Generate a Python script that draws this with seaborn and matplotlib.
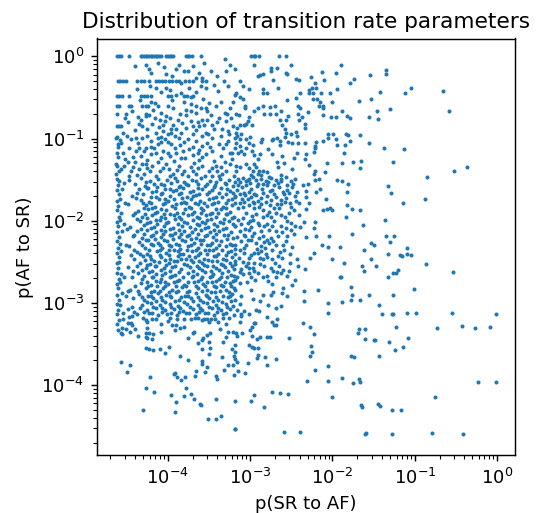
import numpy as np
import pandas as pd
import matplotlib
matplotlib.use("Agg")
import matplotlib.pyplot as plt
import seaborn as sns

# All values are log10 of the transition probabilities (p(SR to AF), p(AF to SR)),
# read off the reference picture region by region.

# horizontal rows at p(AF to SR) = 1, 1/2, 1/3, 1/4, 1/5, 1/7
rows_top = [
    (-4.62, 0.0), (-4.60, 0.0), (-4.57, 0.0), (-4.47, 0.0), (-4.33, 0.0), (-4.31, 0.0), (-4.29, 0.0),
    (-4.27, 0.0), (-4.25, 0.0), (-4.23, 0.0), (-4.21, 0.0), (-4.19, 0.0), (-4.17, 0.0), (-4.15, 0.0),
    (-4.13, 0.0), (-4.11, 0.0), (-4.09, 0.0), (-4.02, 0.0), (-4.00, 0.0), (-3.98, 0.0), (-3.96, 0.0),
    (-3.94, 0.0), (-3.78, 0.0), (-3.76, 0.0), (-3.74, 0.0), (-3.71, 0.0), (-3.60, 0.0), (-2.99, 0.0),
    (-2.96, 0.0), (-2.94, 0.0), (-2.89, 0.0), (-2.65, 0.0), (-2.56, 0.0),
    (-4.61, -0.30), (-4.58, -0.30), (-4.55, -0.30), (-4.51, -0.30), (-4.37, -0.30), (-4.33, -0.30),
    (-4.29, -0.30), (-4.23, -0.30), (-4.15, -0.30), (-4.11, -0.30), (-4.07, -0.30), (-4.03, -0.30),
    (-3.99, -0.30), (-3.95, -0.30), (-3.90, -0.30), (-3.86, -0.30), (-3.79, -0.30), (-3.74, -0.30),
    (-3.69, -0.30), (-3.58, -0.30), (-3.54, -0.30), (-3.32, -0.30), (-3.13, -0.30),
    (-4.62, -0.48), (-4.59, -0.48), (-4.56, -0.48), (-4.47, -0.48), (-4.33, -0.48), (-4.29, -0.48),
    (-4.25, -0.48), (-4.21, -0.48), (-4.00, -0.48), (-3.96, -0.48), (-3.81, -0.48), (-3.77, -0.48),
    (-3.70, -0.48),
    (-4.62, -0.60), (-4.60, -0.60), (-4.47, -0.60), (-4.45, -0.60), (-4.31, -0.60), (-4.27, -0.60),
    (-4.24, -0.60), (-4.00, -0.60),
    (-4.62, -0.70), (-4.51, -0.70), (-4.27, -0.70),
    (-4.62, -0.85), (-4.59, -0.85), (-4.57, -0.85),
]

upper_left = [
    (-4.27, -0.10), (-4.23, -0.16), (-4.12, -0.08), (-4.02, -0.22), (-3.90, -0.16), (-3.86, -0.10),
    (-3.81, -0.18), (-3.76, -0.18), (-3.66, -0.26), (-3.56, -0.08), (-3.58, -0.26), (-3.48, -0.18),
    (-3.30, -0.18), (-3.19, -0.16), (-3.44, -0.35), (-3.54, -0.39), (-3.66, -0.43), (-3.72, -0.49),
    (-3.80, -0.55), (-3.90, -0.47), (-4.14, -0.39), (-4.08, -0.43), (-4.02, -0.39), (-4.27, -0.73),
    (-4.23, -0.71), (-4.10, -0.77), (-3.98, -0.75), (-3.94, -0.83), (-3.88, -0.77), (-3.78, -0.71),
    (-3.66, -0.69), (-3.58, -0.77), (-3.48, -0.71), (-3.38, -0.75), (-3.31, -0.69), (-3.25, -0.63),
    (-3.21, -0.55), (-3.19, -0.47), (-3.50, -0.57), (-3.66, -0.61), (-3.78, -0.65), (-3.94, -0.63),
    (-4.12, -0.61), (-4.16, -0.57), (-4.31, -0.85), (-4.25, -0.89), (-4.14, -0.93), (-4.06, -0.91),
    (-4.00, -0.95), (-3.90, -0.89), (-3.78, -0.87), (-3.70, -0.95), (-3.62, -0.85), (-3.54, -0.93),
    (-3.44, -0.89), (-3.36, -0.97), (-3.27, -0.91), (-3.21, -0.85), (-3.23, -0.75), (-4.39, -0.99),
    (-4.31, -0.99), (-4.21, -1.03), (-4.12, -1.07), (-4.04, -1.01), (-3.96, -1.07), (-3.86, -0.99),
    (-3.76, -1.01), (-3.66, -1.03), (-3.58, -1.09), (-3.46, -0.99), (-3.38, -1.07), (-3.27, -1.03),
    (-3.19, -0.99), (-4.63, -0.99), (-4.61, -1.07), (-4.62, -1.17), (-4.47, -1.11), (-4.39, -1.15),
    (-4.33, -1.21), (-4.27, -1.11), (-4.21, -1.19), (-4.14, -1.17), (-4.06, -1.15), (-3.98, -1.21),
    (-3.90, -1.17), (-3.82, -1.15), (-3.74, -1.13), (-3.64, -1.17), (-3.54, -1.19), (-3.46, -1.15),
    (-3.36, -1.21), (-3.25, -1.17), (-3.19, -1.11), (-4.63, -1.31), (-4.63, -1.43), (-4.57, -1.37),
    (-4.49, -1.29), (-4.43, -1.35), (-4.35, -1.37), (-4.29, -1.43), (-4.27, -1.31), (-4.19, -1.33),
    (-4.10, -1.39), (-4.02, -1.31), (-3.94, -1.43), (-3.86, -1.33), (-3.80, -1.39), (-3.72, -1.35),
    (-3.66, -1.43), (-3.58, -1.33), (-3.50, -1.39), (-3.42, -1.33), (-3.34, -1.43), (-3.25, -1.31),
    (-3.17, -1.39), (-3.74, -0.39), (-3.31, -0.03), (-3.54, -0.63), (-3.84, -0.33), (-4.43, -1.23),
    (-4.58, -1.02), (-4.52, -1.25), (-4.36, -1.05), (-4.25, -1.26), (-4.17, -1.12), (-4.08, -1.24),
    (-4.00, -1.04), (-3.93, -1.27), (-3.85, -1.08), (-3.79, -1.24), (-3.70, -1.10), (-3.62, -1.26),
    (-3.52, -1.05), (-3.44, -1.27), (-3.33, -1.12), (-3.22, -1.25), (-4.60, -1.40), (-4.47, -1.45),
    (-4.32, -1.31), (-4.15, -1.45), (-4.06, -1.36), (-3.97, -1.46), (-3.89, -1.38), (-3.76, -1.46),
    (-3.68, -1.30), (-3.55, -1.45), (-3.47, -1.36), (-3.38, -1.46), (-3.29, -1.40), (-3.20, -1.46),
    (-4.40, -0.90), (-4.19, -0.82), (-4.03, -0.79), (-3.84, -0.93), (-3.64, -0.80), (-3.47, -0.83),
    (-3.34, -0.89), (-3.60, -0.63), (-3.42, -0.60), (-3.85, -0.70), (-4.08, -0.69), (-4.36, -0.74),
    (-4.55, -0.93), (-4.61, -1.22), (-4.62, -0.98), (-4.62, -1.33), (-4.61, -1.10),
    (-4.40, -0.12), (-4.20, -0.20), (-4.05, -0.13), (-3.95, -0.24), (-3.70, -0.12), (-3.62, -0.20),
    (-3.40, -0.24), (-3.24, -0.10), (-4.37, -0.40), (-4.22, -0.36), (-3.98, -0.41), (-3.84, -0.44),
    (-3.60, -0.36), (-3.39, -0.42), (-3.27, -0.36), (-4.34, -0.53), (-4.20, -0.55), (-3.95, -0.53),
    (-3.72, -0.58), (-3.57, -0.52), (-3.35, -0.55), (-4.44, -0.66), (-4.18, -0.65), (-4.02, -0.72),
    (-3.72, -0.66), (-3.52, -0.67), (-3.28, -0.70), (-4.48, -0.80), (-4.35, -0.82), (-4.11, -0.86),
    (-3.96, -0.88), (-3.72, -0.79), (-3.56, -0.84), (-3.40, -0.80), (-3.26, -0.95), (-4.50, -0.97),
    (-4.26, -0.97), (-4.08, -0.98), (-3.91, -0.97), (-3.59, -0.97),
    (-4.52, -0.75), (-4.33, -0.78), (-4.16, -0.75), (-4.06, -0.84), (-3.83, -0.81), (-3.69, -0.85),
    (-3.52, -0.77), (-3.29, -0.79), (-4.57, -1.05), (-4.45, -1.00), (-4.35, -1.12), (-4.20, -1.10),
    (-4.08, -1.04), (-3.92, -1.11), (-3.80, -1.04), (-3.62, -1.14), (-3.49, -1.10), (-3.30, -1.07),
    (-3.22, -1.18), (-4.55, -1.18), (-4.40, -1.28), (-4.22, -1.40), (-4.12, -1.28), (-3.99, -1.37),
    (-3.84, -1.24), (-3.70, -1.40), (-3.58, -1.22), (-3.40, -1.40), (-3.31, -1.29), (-4.53, -1.33),
    (-4.38, -1.44), (-4.26, -1.36), (-3.83, -1.43), (-3.63, -1.36), (-3.46, -1.45), (-3.35, -1.35),
    (-4.00, -1.18), (-3.70, -1.20), (-4.45, -1.40), (-3.96, -0.93), (-3.66, -0.90), (-3.51, -0.95),
    (-4.12, -0.99), (-4.29, -1.15),
]

upper_mid = [
    (-2.96, -0.10), (-2.51, -0.10), (-1.90, -0.10), (-2.75, -0.14), (-2.75, -0.18), (-2.68, -0.14),
    (-2.57, -0.20), (-2.55, -0.22), (-2.88, -0.23), (-2.85, -0.21), (-2.90, -0.24), (-2.13, -0.19),
    (-1.96, -0.20), (-2.26, -0.25), (-1.54, -0.23), (-3.09, -0.36), (-3.02, -0.40), (-3.17, -0.45),
    (-2.72, -0.29), (-2.44, -0.28), (-2.41, -0.29), (-2.21, -0.33), (-2.25, -0.39), (-2.10, -0.29),
    (-1.74, -0.28), (-1.79, -0.32), (-2.84, -0.40), (-2.84, -0.44), (-2.79, -0.45), (-2.66, -0.38),
    (-2.29, -0.41), (-2.29, -0.44), (-2.20, -0.39), (-2.24, -0.44), (-2.14, -0.44), (-2.03, -0.45),
    (-1.94, -0.40), (-3.12, -0.50), (-3.09, -0.52), (-2.55, -0.53), (-2.44, -0.51), (-2.39, -0.45),
    (-2.24, -0.52), (-2.19, -0.52), (-2.15, -0.55), (-1.68, -0.54), (-1.53, -0.52), (-3.06, -0.61),
    (-3.06, -0.63), (-2.91, -0.63), (-2.84, -0.61), (-2.76, -0.62), (-2.70, -0.61), (-2.42, -0.61),
    (-2.40, -0.63), (-2.17, -0.61), (-2.12, -0.60), (-2.11, -0.63), (-2.00, -0.55), (-3.17, -0.70),
    (-3.14, -0.71), (-2.95, -0.67), (-2.83, -0.70), (-2.76, -0.70), (-2.69, -0.70), (-2.62, -0.67),
    (-2.54, -0.73), (-2.42, -0.70), (-2.37, -0.74), (-2.30, -0.68), (-2.11, -0.71), (-2.02, -0.74),
    (-1.96, -0.74), (-1.89, -0.67), (-1.82, -0.73), (-1.79, -0.75), (-1.56, -0.74), (-3.01, -0.74),
    (-3.03, -0.79), (-3.05, -0.82), (-3.08, -0.84), (-3.13, -0.84), (-3.16, -0.87), (-2.98, -0.84),
    (-3.17, -0.93), (-3.16, -0.97), (-3.11, -0.95), (-3.13, -1.00), (-3.05, -1.01), (-3.00, -0.98),
    (-3.01, -1.06), (-2.64, -0.78), (-2.56, -0.78), (-2.61, -0.83), (-2.41, -0.78), (-2.33, -0.82),
    (-2.33, -0.87), (-2.58, -0.88), (-2.56, -0.93), (-2.58, -0.98), (-2.44, -0.92), (-2.43, -0.97),
    (-2.50, -0.94), (-2.72, -1.00), (-2.67, -0.99), (-2.64, -1.03), (-2.64, -1.08), (-2.73, -1.02),
    (-2.86, -1.00), (-2.87, -1.04), (-2.78, -1.13), (-2.88, -1.19), (-2.90, -1.25), (-2.95, -1.20),
    (-2.98, -1.15), (-3.05, -1.11), (-3.11, -1.15), (-3.15, -1.17), (-3.07, -1.19), (-3.17, -1.06),
    (-3.13, -1.09), (-2.97, -1.08), (-2.54, -1.04), (-2.49, -1.05), (-2.42, -1.05), (-2.34, -1.06),
    (-2.20, -1.04), (-2.21, -1.09), (-2.21, -1.12), (-2.22, -1.16), (-2.32, -1.19), (-2.43, -1.18),
    (-2.34, -1.25), (-2.47, -1.24), (-2.11, -1.03), (-2.05, -0.95), (-1.99, -0.95), (-2.05, -0.99),
    (-1.96, -1.01), (-1.83, -0.94), (-1.81, -0.96), (-1.85, -1.08), (-1.94, -1.08), (-1.86, -1.17),
    (-1.79, -1.03), (-1.66, -0.96), (-1.56, -1.06), (-3.17, -1.33), (-3.13, -1.35), (-3.05, -1.31),
    (-3.01, -1.36), (-2.95, -1.31), (-2.93, -1.35), (-2.97, -1.39), (-2.91, -1.43), (-2.89, -1.40),
    (-2.85, -1.39), (-2.80, -1.41), (-2.87, -1.44), (-2.99, -1.44), (-2.77, -1.47), (-2.68, -1.29),
    (-2.66, -1.35), (-2.63, -1.44), (-2.59, -1.30), (-2.49, -1.37), (-2.61, -1.21), (-2.73, -1.19),
    (-2.21, -1.39), (-2.22, -1.43), (-2.29, -1.32), (-2.07, -1.30), (-2.09, -1.41), (-1.75, -1.28),
    (-1.65, -1.27), (-1.66, -1.36), (-1.88, -1.30),
]

upper_right = [
    (-1.35, -0.17), (-1.35, -0.22), (-1.42, -0.43), (-1.12, -0.44), (-1.04, -0.39), (-0.66, -0.42),
    (-1.46, -0.67), (-1.30, -0.64), (-0.58, -0.67), (-1.45, -0.76), (-1.38, -1.12), (-1.13, -1.13),
    (-1.26, -1.29), (-0.52, -1.39), (-0.36, -1.35), (-0.85, -1.47),
]

mid_left = [
    (-4.62, -1.49), (-4.59, -1.52), (-4.47, -1.50), (-4.33, -1.48), (-4.22, -1.52), (-4.12, -1.49), (-4.01, -1.51), (-3.92, -1.48), (-3.80, -1.53), (-3.71, -1.50), (-3.60, -1.48), (-3.49, -1.52), (-3.37, -1.49), (-3.26, -1.51),
    (-4.61, -1.57), (-4.40, -1.55), (-4.28, -1.58), (-4.17, -1.55), (-4.05, -1.57), (-3.96, -1.54), (-3.85, -1.58), (-3.75, -1.56), (-3.64, -1.55), (-3.55, -1.58), (-3.43, -1.56), (-3.31, -1.54), (-3.21, -1.58),
    (-4.62, -1.63), (-4.56, -1.61), (-4.35, -1.62), (-4.25, -1.60), (-4.14, -1.64), (-4.03, -1.61), (-3.90, -1.63), (-3.82, -1.60), (-3.69, -1.64), (-3.58, -1.61), (-3.47, -1.63), (-3.35, -1.60), (-3.24, -1.64),
    (-4.60, -1.68), (-4.44, -1.70), (-4.30, -1.67), (-4.20, -1.71), (-4.09, -1.68), (-3.98, -1.70), (-3.87, -1.67), (-3.77, -1.71), (-3.66, -1.69), (-3.53, -1.67), (-3.41, -1.71), (-3.29, -1.68), (-3.19, -1.70),
    (-4.62, -1.76), (-4.58, -1.74), (-4.33, -1.75), (-4.23, -1.77), (-4.11, -1.73), (-4.00, -1.76), (-3.93, -1.74), (-3.81, -1.77), (-3.72, -1.73), (-3.61, -1.76), (-3.50, -1.74), (-3.39, -1.77), (-3.27, -1.75),
    (-4.61, -1.82), (-4.48, -1.80), (-4.27, -1.81), (-4.16, -1.83), (-4.06, -1.80), (-3.95, -1.82), (-3.84, -1.79), (-3.74, -1.83), (-3.63, -1.80), (-3.52, -1.82), (-3.44, -1.79), (-3.33, -1.83), (-3.22, -1.81),
    (-4.62, -1.87), (-4.57, -1.90), (-4.36, -1.88), (-4.24, -1.86), (-4.13, -1.89), (-4.02, -1.87), (-3.89, -1.90), (-3.79, -1.86), (-3.68, -1.89), (-3.57, -1.87), (-3.46, -1.90), (-3.36, -1.86), (-3.25, -1.89),
    (-4.60, -1.95), (-4.42, -1.93), (-4.31, -1.96), (-4.19, -1.93), (-4.08, -1.95), (-3.97, -1.92), (-3.86, -1.95), (-3.76, -1.93), (-3.65, -1.96), (-3.54, -1.93), (-3.42, -1.95), (-3.30, -1.92), (-3.20, -1.96),
    (-4.62, -2.01), (-4.58, -1.99), (-4.34, -2.00), (-4.22, -2.02), (-4.10, -1.99), (-4.00, -2.01), (-3.91, -1.98), (-3.80, -2.02), (-3.70, -1.99), (-3.59, -2.01), (-3.48, -1.98), (-3.37, -2.02), (-3.26, -2.00),
    (-4.61, -2.06), (-4.46, -2.08), (-4.29, -2.05), (-4.17, -2.08), (-4.05, -2.06), (-3.94, -2.09), (-3.83, -2.06), (-3.73, -2.08), (-3.62, -2.05), (-3.51, -2.08), (-3.40, -2.06), (-3.29, -2.09), (-3.18, -2.06),
    (-4.62, -2.14), (-4.56, -2.12), (-4.38, -2.13), (-4.26, -2.11), (-4.15, -2.14), (-4.03, -2.12), (-3.92, -2.15), (-3.81, -2.12), (-3.71, -2.14), (-3.60, -2.11), (-3.49, -2.14), (-3.38, -2.12), (-3.23, -2.14),
    (-4.60, -2.20), (-4.43, -2.18), (-4.32, -2.21), (-4.21, -2.18), (-4.09, -2.20), (-3.98, -2.17), (-3.87, -2.20), (-3.77, -2.18), (-3.66, -2.21), (-3.55, -2.18), (-3.45, -2.20), (-3.32, -2.17), (-3.21, -2.21),
    (-4.62, -2.25), (-4.58, -2.28), (-4.35, -2.26), (-4.24, -2.24), (-4.12, -2.27), (-4.01, -2.25), (-3.90, -2.28), (-3.79, -2.25), (-3.68, -2.27), (-3.57, -2.24), (-3.46, -2.27), (-3.35, -2.25), (-3.25, -2.28),
    (-4.61, -2.33), (-4.47, -2.31), (-4.28, -2.33), (-4.18, -2.30), (-4.07, -2.33), (-3.96, -2.31), (-3.85, -2.34), (-3.75, -2.31), (-3.63, -2.33), (-3.52, -2.30), (-3.41, -2.33), (-3.30, -2.31), (-3.19, -2.34),
    (-4.62, -2.39), (-4.57, -2.37), (-4.37, -2.38), (-4.25, -2.40), (-4.13, -2.37), (-4.02, -2.39), (-3.93, -2.36), (-3.82, -2.40), (-3.71, -2.37), (-3.61, -2.39), (-3.50, -2.36), (-3.39, -2.40), (-3.27, -2.38),
    (-4.60, -2.44), (-4.41, -2.46), (-4.30, -2.43), (-4.20, -2.46), (-4.08, -2.44), (-3.97, -2.46), (-3.88, -2.43), (-3.78, -2.47), (-3.67, -2.44), (-3.56, -2.46), (-3.44, -2.43), (-3.33, -2.46), (-3.22, -2.44),
    (-4.62, -2.52), (-4.59, -2.50), (-4.34, -2.51), (-4.22, -2.53), (-4.11, -2.50), (-3.99, -2.52), (-3.89, -2.49), (-3.80, -2.53), (-3.69, -2.50), (-3.58, -2.52), (-3.47, -2.49), (-3.36, -2.53), (-3.24, -2.51),
    (-4.61, -2.58), (-4.49, -2.56), (-4.27, -2.58), (-4.16, -2.55), (-4.05, -2.58), (-3.95, -2.56), (-3.84, -2.59), (-3.73, -2.56), (-3.62, -2.58), (-3.53, -2.55), (-3.42, -2.58), (-3.31, -2.56), (-3.20, -2.59),
    (-4.62, -2.63), (-4.57, -2.65), (-4.36, -2.64), (-4.23, -2.62), (-4.14, -2.65), (-4.03, -2.63), (-3.91, -2.66), (-3.76, -2.63), (-3.65, -2.65), (-3.55, -2.62), (-3.45, -2.65), (-3.34, -2.63), (-3.23, -2.66),
    (-4.60, -2.71), (-4.44, -2.69), (-4.31, -2.71), (-4.19, -2.68), (-4.09, -2.71), (-3.98, -2.69), (-3.86, -2.72), (-3.71, -2.69), (-3.60, -2.71), (-3.49, -2.68), (-3.38, -2.71), (-3.28, -2.69), (-3.18, -2.72),
    (-4.62, -2.77), (-4.58, -2.75), (-4.33, -2.76), (-4.21, -2.78), (-4.10, -2.75), (-4.00, -2.77), (-3.93, -2.74), (-3.81, -2.78), (-3.68, -2.75), (-3.57, -2.77), (-3.46, -2.74), (-3.35, -2.78), (-3.25, -2.76),
    (-4.61, -2.82), (-4.46, -2.84), (-4.27, -2.82), (-4.17, -2.85), (-4.06, -2.82), (-3.95, -2.84), (-3.83, -2.81), (-3.74, -2.85), (-3.63, -2.82), (-3.52, -2.84), (-3.41, -2.81), (-3.30, -2.84), (-3.20, -2.82),
    (-4.62, -2.90), (-4.56, -2.88), (-4.35, -2.89), (-4.24, -2.91), (-4.12, -2.88), (-4.02, -2.90), (-3.90, -2.87), (-3.79, -2.91), (-3.66, -2.88), (-3.54, -2.90), (-3.43, -2.87), (-3.33, -2.91), (-3.22, -2.89),
    (-4.60, -2.96), (-4.42, -2.94), (-4.29, -2.97), (-4.18, -2.94), (-4.07, -2.96), (-3.96, -2.93), (-3.86, -2.96), (-3.72, -2.94), (-3.61, -2.97), (-3.50, -2.94), (-3.39, -2.96), (-3.27, -2.93), (-3.19, -2.97),
    (-4.62, -3.01), (-4.58, -3.03), (-4.32, -3.02), (-4.21, -3.00), (-4.10, -3.03), (-3.98, -3.01), (-3.88, -3.04), (-3.77, -3.01), (-3.64, -3.03), (-3.53, -3.00), (-3.41, -3.03), (-3.30, -3.01), (-3.21, -3.04),
    (-4.61, -3.09), (-4.48, -3.07), (-4.26, -3.09), (-4.15, -3.06), (-4.04, -3.09), (-3.93, -3.07), (-3.82, -3.10), (-3.70, -3.07), (-3.58, -3.09), (-3.47, -3.06), (-3.36, -3.09), (-3.25, -3.07),
    (-4.62, -3.14), (-4.55, -3.12), (-4.37, -3.14), (-4.23, -3.12), (-4.12, -3.15), (-4.01, -3.13), (-3.89, -3.15), (-3.78, -3.12), (-3.66, -3.14), (-3.55, -3.12), (-3.44, -3.15), (-3.33, -3.13), (-3.20, -3.15),
]

mid_left_extra = [
    (-4.53, -1.54), (-4.27, -1.53), (-4.08, -1.55), (-3.89, -1.52), (-3.78, -1.55), (-3.66, -1.52), (-3.52, -1.55), (-3.41, -1.53), (-3.29, -1.55), (-3.18, -1.53),
    (-4.38, -1.66), (-4.19, -1.65), (-4.07, -1.66), (-3.94, -1.64), (-3.84, -1.66), (-3.73, -1.65), (-3.62, -1.67), (-3.50, -1.65), (-3.38, -1.66), (-3.21, -1.66),
    (-4.52, -1.78), (-4.30, -1.79), (-4.20, -1.78), (-4.03, -1.79), (-3.90, -1.80), (-3.78, -1.78), (-3.67, -1.79), (-3.56, -1.78), (-3.47, -1.80), (-3.30, -1.79), (-3.19, -1.78),
    (-4.40, -1.91), (-4.28, -1.92), (-4.16, -1.90), (-4.05, -1.92), (-3.93, -1.93), (-3.82, -1.91), (-3.71, -1.92), (-3.60, -1.90), (-3.49, -1.92), (-3.39, -1.90), (-3.28, -1.92),
    (-4.53, -2.04), (-4.25, -2.03), (-4.13, -2.04), (-4.02, -2.03), (-3.88, -2.04), (-3.77, -2.03), (-3.65, -2.04), (-3.55, -2.03), (-3.44, -2.04), (-3.33, -2.03), (-3.21, -2.04),
    (-4.41, -2.17), (-4.29, -2.16), (-4.18, -2.17), (-4.06, -2.16), (-3.95, -2.17), (-3.84, -2.16), (-3.74, -2.17), (-3.63, -2.16), (-3.52, -2.17), (-3.42, -2.16), (-3.27, -2.17),
    (-4.51, -2.29), (-4.31, -2.29), (-4.21, -2.28), (-4.10, -2.30), (-3.99, -2.29), (-3.87, -2.30), (-3.72, -2.29), (-3.60, -2.28), (-3.49, -2.29), (-3.38, -2.30), (-3.22, -2.29),
    (-4.45, -2.42), (-4.34, -2.41), (-4.22, -2.43), (-4.10, -2.42), (-3.99, -2.42), (-3.85, -2.41), (-3.74, -2.43), (-3.64, -2.42), (-3.53, -2.41), (-3.42, -2.43), (-3.30, -2.42), (-3.19, -2.41),
    (-4.38, -2.55), (-4.25, -2.54), (-4.14, -2.55), (-4.02, -2.54), (-3.92, -2.55), (-3.77, -2.54), (-3.65, -2.55), (-3.56, -2.54), (-3.45, -2.55), (-3.33, -2.54), (-3.22, -2.55),
    (-4.53, -2.68), (-4.29, -2.67), (-4.18, -2.68), (-4.07, -2.66), (-3.95, -2.67), (-3.82, -2.68), (-3.69, -2.67), (-3.58, -2.68), (-3.47, -2.67), (-3.36, -2.68), (-3.20, -2.67),
    (-4.40, -2.80), (-4.24, -2.79), (-4.13, -2.80), (-4.03, -2.79), (-3.90, -2.80), (-3.78, -2.79), (-3.66, -2.80), (-3.55, -2.79), (-3.44, -2.80), (-3.33, -2.79), (-3.23, -2.80),
    (-4.51, -2.92), (-4.32, -2.93), (-4.21, -2.92), (-4.09, -2.93), (-3.98, -2.92), (-3.84, -2.93), (-3.75, -2.92), (-3.64, -2.93), (-3.52, -2.92), (-3.41, -2.93), (-3.24, -2.92),
    (-4.44, -3.05), (-4.34, -3.06), (-4.18, -3.05), (-4.07, -3.06), (-3.96, -3.05), (-3.85, -3.06), (-3.73, -3.05), (-3.61, -3.06), (-3.50, -3.05), (-3.39, -3.06), (-3.28, -3.05),
    (-4.30, -3.18), (-4.14, -3.19), (-3.98, -3.18), (-3.81, -3.19), (-3.67, -3.18), (-3.48, -3.19), (-3.26, -3.18),
]

mid_left_fill = [
    (-4.24, -1.60), (-4.13, -1.59), (-3.98, -1.61), (-3.87, -1.59), (-3.63, -1.60), (-3.44, -1.59), (-3.28, -1.61),
    (-4.39, -1.72), (-4.15, -1.71), (-4.04, -1.73), (-3.83, -1.72), (-3.70, -1.70), (-3.45, -1.72), (-3.34, -1.71), (-3.22, -1.73),
    (-4.29, -1.85), (-4.19, -1.84), (-4.08, -1.86), (-3.91, -1.84), (-3.72, -1.85), (-3.60, -1.84), (-3.41, -1.86), (-3.29, -1.84),
    (-4.37, -1.98), (-4.26, -1.97), (-4.14, -1.99), (-4.04, -1.97), (-3.84, -1.98), (-3.62, -1.97), (-3.52, -1.99), (-3.32, -1.98), (-3.22, -1.97),
    (-4.50, -2.10), (-4.33, -2.10), (-4.20, -2.09), (-4.09, -2.11), (-3.98, -2.10), (-3.87, -2.11), (-3.67, -2.10), (-3.55, -2.09), (-3.44, -2.11), (-3.33, -2.10),
    (-4.27, -2.23), (-4.16, -2.22), (-4.05, -2.23), (-3.94, -2.22), (-3.83, -2.24), (-3.72, -2.22), (-3.61, -2.23), (-3.41, -2.23), (-3.28, -2.22),
    (-4.41, -2.36), (-4.23, -2.35), (-4.10, -2.36), (-3.99, -2.35), (-3.88, -2.37), (-3.77, -2.35), (-3.66, -2.36), (-3.55, -2.35), (-3.45, -2.36), (-3.34, -2.35), (-3.23, -2.37),
    (-4.28, -2.48), (-4.17, -2.49), (-4.04, -2.48), (-3.93, -2.49), (-3.84, -2.47), (-3.72, -2.48), (-3.62, -2.49), (-3.51, -2.48), (-3.40, -2.49), (-3.29, -2.48), (-3.18, -2.49),
    (-4.43, -2.61), (-4.31, -2.60), (-4.19, -2.61), (-4.08, -2.60), (-3.98, -2.61), (-3.87, -2.62), (-3.69, -2.61), (-3.59, -2.60), (-3.48, -2.61), (-3.38, -2.60), (-3.27, -2.61),
    (-4.25, -2.74), (-4.15, -2.73), (-4.04, -2.74), (-3.89, -2.73), (-3.76, -2.74), (-3.63, -2.73), (-3.52, -2.74), (-3.42, -2.73), (-3.31, -2.74), (-3.21, -2.73),
    (-4.49, -2.86), (-4.36, -2.86), (-4.21, -2.87), (-4.10, -2.86), (-3.99, -2.87), (-3.88, -2.86), (-3.77, -2.87), (-3.59, -2.86), (-3.48, -2.87), (-3.37, -2.86), (-3.26, -2.87),
    (-4.26, -2.99), (-4.14, -2.98), (-4.03, -2.99), (-3.91, -2.98), (-3.80, -2.99), (-3.69, -2.98), (-3.57, -2.99), (-3.45, -2.98), (-3.34, -2.99), (-3.23, -2.98),
    (-4.41, -3.11), (-4.29, -3.11), (-4.19, -3.12), (-4.07, -3.11), (-3.96, -3.12), (-3.86, -3.11), (-3.74, -3.12), (-3.62, -3.11), (-3.51, -3.12), (-3.40, -3.11), (-3.29, -3.12),
]

mid_mid = [
    (-3.15, -1.49), (-3.09, -1.48), (-3.03, -1.50), (-2.97, -1.47), (-2.93, -1.51), (-2.87, -1.49),
    (-2.81, -1.52), (-2.75, -1.48), (-2.69, -1.51), (-2.63, -1.49), (-2.57, -1.47), (-2.51, -1.52),
    (-2.45, -1.49), (-2.36, -1.56), (-2.30, -1.55), (-2.21, -1.51), (-2.16, -1.49), (-1.94, -1.50),
    (-1.88, -1.52), (-1.81, -1.55), (-3.15, -1.57), (-3.10, -1.59), (-3.05, -1.56), (-2.99, -1.61),
    (-2.92, -1.58), (-2.86, -1.61), (-2.79, -1.57), (-2.73, -1.63), (-2.65, -1.59), (-2.60, -1.65),
    (-2.55, -1.63), (-2.49, -1.59), (-2.43, -1.65), (-2.32, -1.64), (-2.20, -1.65), (-2.15, -1.61),
    (-2.08, -1.74), (-2.12, -1.87), (-2.07, -1.86), (-2.03, -1.84), (-2.00, -1.87), (-2.32, -1.71),
    (-2.29, -1.78), (-2.32, -1.86), (-2.41, -1.78), (-2.41, -1.93), (-2.47, -1.87), (-2.53, -1.91),
    (-2.58, -1.95), (-2.65, -1.85), (-2.69, -1.91), (-2.75, -1.95), (-2.80, -1.93), (-2.85, -1.87),
    (-2.89, -1.83), (-2.95, -1.85), (-3.01, -1.81), (-3.07, -1.77), (-3.13, -1.79), (-3.18, -1.71),
    (-3.13, -1.67), (-3.06, -1.69), (-2.99, -1.71), (-2.93, -1.69), (-2.87, -1.72), (-2.81, -1.77),
    (-2.75, -1.75), (-2.69, -1.71), (-2.63, -1.75), (-2.57, -1.72), (-2.52, -1.79), (-1.82, -1.65),
    (-1.82, -1.81), (-1.76, -1.86), (-1.67, -1.87), (-1.84, -1.96), (-1.63, -2.05), (-1.76, -2.16),
    (-2.04, -2.19), (-2.20, -2.19), (-2.32, -2.20), (-2.35, -2.02), (-2.21, -2.02), (-2.23, -2.09),
    (-2.39, -2.08), (-2.45, -2.07), (-2.51, -2.11), (-2.57, -2.09), (-2.63, -2.07), (-2.69, -2.13),
    (-2.77, -2.11), (-2.83, -2.07), (-2.91, -2.03), (-2.97, -1.99), (-3.03, -2.03), (-3.09, -1.97),
    (-3.15, -1.99), (-3.18, -2.07), (-3.13, -2.13), (-3.07, -2.17), (-3.01, -2.11), (-2.95, -2.15),
    (-2.89, -2.21), (-2.85, -2.19), (-2.79, -2.23), (-2.75, -2.21), (-2.77, -2.27), (-2.82, -2.33),
    (-2.87, -2.31), (-2.93, -2.27), (-2.99, -2.23), (-3.05, -2.29), (-3.11, -2.25), (-3.18, -2.29),
    (-3.13, -2.35), (-3.07, -2.39), (-3.01, -2.45), (-2.99, -2.42), (-2.95, -2.51), (-2.91, -2.39),
    (-2.85, -2.47), (-2.80, -2.44), (-2.73, -2.47), (-2.66, -2.43), (-2.61, -2.45), (-2.59, -2.36),
    (-2.49, -2.32), (-2.43, -2.47), (-2.42, -2.55), (-2.34, -2.59), (-2.27, -2.45), (-2.22, -2.39),
    (-2.13, -2.30), (-2.06, -2.32), (-1.91, -2.32), (-2.01, -2.47), (-1.86, -2.51), (-1.62, -2.35),
    (-1.53, -2.27), (-1.50, -2.29), (-1.53, -2.47), (-1.64, -2.55), (-1.62, -2.61), (-3.18, -2.53),
    (-3.11, -2.59), (-3.05, -2.55), (-3.09, -2.65), (-3.01, -2.63), (-2.95, -2.61), (-2.90, -2.63),
    (-2.85, -2.69), (-2.79, -2.67), (-2.72, -2.61), (-2.65, -2.55), (-2.60, -2.60), (-2.53, -2.61),
    (-2.55, -2.67), (-2.49, -2.78), (-2.46, -2.72), (-2.35, -2.86), (-2.18, -2.84), (-1.91, -2.68),
    (-1.90, -2.69), (-1.77, -2.81), (-1.76, -2.90), (-1.78, -2.96), (-1.66, -2.96), (-1.56, -2.90),
    (-2.06, -3.00), (-2.05, -3.12), (-1.88, -2.99), (-2.35, -2.98), (-2.69, -3.06), (-2.78, -3.03),
    (-2.62, -3.04), (-2.55, -2.92), (-2.61, -2.88), (-2.72, -2.87), (-2.75, -2.90), (-2.85, -2.90),
    (-2.99, -2.84), (-2.97, -2.95), (-2.88, -2.98), (-2.93, -3.08), (-2.89, -3.10), (-3.11, -2.92),
    (-3.13, -2.76), (-3.13, -3.01), (-3.16, -3.08), (-3.11, -3.14), (-3.01, -3.14), (-3.07, -3.10),
    (-3.18, -2.84), (-2.63, -2.63), (-2.69, -2.68),
    (-3.12, -1.53), (-3.00, -1.54), (-2.90, -1.55), (-2.78, -1.53), (-2.66, -1.54), (-2.55, -1.56),
    (-3.16, -1.63), (-3.08, -1.66), (-2.96, -1.67), (-2.84, -1.66), (-2.71, -1.68), (-2.59, -1.68),
    (-2.46, -1.70), (-3.10, -1.74), (-2.97, -1.77), (-2.91, -1.76), (-2.76, -1.81), (-2.62, -1.80),
    (-2.50, -1.83), (-3.15, -1.85), (-3.05, -1.90), (-2.93, -1.92), (-2.85, -1.96), (-2.71, -2.00),
    (-2.55, -2.00), (-3.11, -2.04), (-2.99, -2.08), (-2.87, -2.12), (-2.74, -2.06), (-2.61, -2.14),
    (-2.47, -2.16), (-3.16, -2.20), (-3.03, -2.24), (-2.92, -2.34), (-2.81, -2.40), (-2.69, -2.30),
    (-2.56, -2.25), (-3.14, -2.45), (-3.09, -2.50), (-2.97, -2.57), (-2.83, -2.55), (-2.70, -2.52),
    (-2.52, -2.52), (-3.16, -2.69), (-3.04, -2.74), (-2.94, -2.72), (-2.73, -2.77), (-2.60, -2.82),
    (-3.05, -1.52), (-2.84, -1.55), (-2.62, -1.52), (-3.02, -1.65), (-2.76, -1.64), (-2.53, -1.66),
    (-3.03, -1.73), (-2.79, -1.70), (-2.58, -1.77), (-3.09, -1.83), (-2.87, -1.80), (-2.71, -1.84),
    (-2.98, -1.94), (-2.77, -1.89), (-2.62, -1.93), (-3.06, -2.10), (-2.80, -2.04), (-2.66, -2.18),
    (-2.98, -2.19), (-2.72, -2.25), (-2.60, -2.29), (-3.08, -2.33), (-2.87, -2.37), (-2.64, -2.38),
    (-3.03, -2.51), (-2.88, -2.53), (-2.75, -2.57), (-3.12, -2.62), (-2.99, -2.68), (-2.78, -2.73),
    (-3.01, -1.49), (-2.71, -1.57), (-2.48, -1.55), (-2.95, -1.79), (-2.68, -1.80), (-2.44, -1.76),
    (-3.00, -2.00), (-2.89, -2.05), (-2.50, -2.03), (-3.06, -2.18), (-2.83, -2.26), (-2.55, -2.18),
    (-2.95, -2.39), (-2.73, -2.35), (-2.52, -2.40), (-3.01, -2.58), (-2.88, -2.45), (-2.68, -2.62),
]

mid_right = [
    (-1.33, -1.58), (-1.29, -1.66), (-0.87, -1.74), (-1.14, -1.78), (-1.36, -1.99), (-1.35, -2.19),
    (-1.25, -2.19), (-1.30, -2.26), (-1.10, -2.33), (-1.33, -2.41), (-1.18, -2.42), (-1.15, -2.43),
    (-1.09, -2.40), (-1.04, -2.42), (-1.47, -2.55), (-0.86, -2.53), (-1.20, -2.60), (-1.27, -2.63),
    (-1.23, -2.63), (-0.54, -2.62), (-1.33, -2.69), (-1.01, -2.83), (-1.27, -2.90), (-1.44, -3.02),
    (-1.40, -3.13), (-1.28, -3.14), (-1.26, -3.14), (-1.09, -3.12), (-0.98, -3.12), (-0.55, -3.12),
    (-0.01, -3.13),
]

low_left = [
    (-4.60, -3.21), (-4.55, -3.19), (-4.47, -3.17), (-4.44, -3.16), (-4.48, -3.25), (-4.45, -3.25),
    (-4.44, -3.27), (-4.56, -3.31), (-4.51, -3.32), (-4.57, -3.37), (-4.56, -3.38), (-4.46, -3.35),
    (-4.40, -3.32), (-4.36, -3.40), (-4.27, -3.21), (-4.25, -3.23), (-4.19, -3.20), (-4.25, -3.31),
    (-4.23, -3.36), (-4.27, -3.37), (-4.27, -3.42), (-4.25, -3.43), (-4.18, -3.38), (-4.19, -3.44),
    (-4.09, -3.26), (-4.08, -3.35), (-4.00, -3.22), (-3.95, -3.27), (-3.92, -3.33), (-3.90, -3.27),
    (-3.85, -3.31), (-3.81, -3.29), (-3.89, -3.19), (-3.72, -3.19), (-3.70, -3.36), (-3.68, -3.35),
    (-3.75, -3.43), (-3.63, -3.18), (-3.59, -3.21), (-3.56, -3.19), (-3.52, -3.19), (-3.50, -3.23),
    (-3.43, -3.20), (-3.39, -3.23), (-3.33, -3.18), (-3.30, -3.26), (-3.37, -3.32), (-3.27, -3.35),
    (-3.21, -3.35), (-3.49, -3.36), (-3.52, -3.39), (-3.57, -3.43), (-3.59, -3.45), (-3.64, -3.49),
    (-3.50, -3.48), (-3.30, -3.42), (-3.33, -3.48), (-3.19, -3.51), (-3.22, -3.56), (-4.27, -3.55),
    (-4.23, -3.56), (-4.18, -3.57), (-4.10, -3.56), (-4.03, -3.61), (-3.99, -3.54), (-3.49, -3.55),
    (-3.50, -3.62), (-3.59, -3.56), (-3.85, -3.65), (-3.75, -3.70), (-3.59, -3.71), (-3.59, -3.74),
    (-3.53, -3.78), (-3.55, -3.84), (-3.66, -3.83), (-3.34, -3.66), (-3.20, -3.65), (-3.27, -3.75),
    (-3.32, -3.81), (-3.20, -3.88), (-3.42, -3.89), (-3.40, -3.92), (-3.67, -3.89), (-3.79, -3.90),
    (-3.84, -3.94), (-3.89, -3.90), (-3.93, -3.87), (-3.91, -3.85), (-4.22, -3.90), (-4.57, -3.72),
    (-4.46, -3.75), (-4.50, -3.84), (-4.27, -4.03), (-4.17, -4.08), (-3.78, -4.04), (-3.96, -4.12),
    (-3.90, -4.20), (-3.81, -4.13), (-3.72, -4.11), (-3.68, -4.17), (-3.61, -4.23), (-3.60, -4.24),
    (-3.92, -4.33), (-4.30, -4.30), (-3.51, -4.41), (-3.41, -4.17), (-3.41, -4.41), (-3.36, -4.37),
    (-3.19, -4.53), (-3.21, -3.75), (-3.18, -3.60), (-4.62, -3.26), (-4.61, -3.33),
]

low_mid = [
    (-3.11, -3.16), (-3.12, -3.23), (-2.96, -3.25), (-2.94, -3.24), (-2.98, -3.29), (-3.00, -3.33),
    (-2.79, -3.17), (-2.74, -3.23), (-2.71, -3.27), (-2.69, -3.27), (-2.67, -3.20), (-2.36, -3.25),
    (-2.27, -3.29), (-2.22, -3.38), (-3.17, -3.36), (-3.16, -3.40), (-3.10, -3.37), (-2.98, -3.40),
    (-2.92, -3.44), (-2.88, -3.42), (-2.79, -3.41), (-2.76, -3.42), (-2.53, -3.43), (-3.01, -3.51),
    (-2.98, -3.54), (-2.95, -3.55), (-2.90, -3.55), (-2.90, -3.63), (-2.92, -3.67), (-2.82, -3.66),
    (-2.69, -3.68), (-2.79, -3.75), (-3.18, -3.68), (-3.16, -3.72), (-3.03, -3.73), (-3.15, -3.83),
    (-3.06, -3.85), (-2.26, -3.52), (-2.25, -3.60), (-2.27, -3.64), (-2.21, -3.82), (-2.05, -3.77),
    (-2.31, -3.95), (-2.05, -3.95), (-1.88, -3.91), (-1.78, -3.64), (-1.74, -3.66), (-1.75, -3.97),
    (-1.68, -3.92), (-1.66, -3.96), (-1.68, -3.32), (-1.60, -3.32), (-1.69, -3.37), (-1.60, -3.44),
    (-1.49, -3.45), (-2.74, -4.08), (-2.64, -4.09), (-2.54, -4.11), (-2.95, -4.12), (-2.99, -4.19),
    (-2.83, -4.27), (-3.18, -4.19), (-2.00, -4.14), (-1.65, -4.24), (-1.64, -4.27), (-3.18, -4.53),
    (-2.59, -4.57), (-2.39, -4.57), (-1.60, -4.59), (-1.59, -4.58),
]

low_right = [
    (-1.23, -3.29), (-0.73, -3.30), (-0.43, -3.28), (-0.27, -3.31), (-0.09, -3.29), (-1.48, -3.45),
    (-1.31, -3.47), (-1.08, -3.43), (-1.24, -3.57), (-1.14, -3.54), (-1.44, -3.65), (-0.23, -3.96),
    (-0.01, -3.96), (-0.76, -4.14), (-1.45, -4.23), (-1.42, -4.25), (-1.28, -4.30), (-1.17, -4.30),
    (-1.28, -4.59), (-0.79, -4.58), (-0.41, -4.59),
]

regions = [rows_top, upper_left, upper_mid, upper_right, mid_left, mid_left_extra,
           mid_left_fill, mid_mid, mid_right, low_left, low_mid, low_right]
log_sr_to_af = np.array([p[0] for r in regions for p in r])
log_af_to_sr = np.array([p[1] for r in regions for p in r])

df = pd.DataFrame({
    "p(SR to AF)": 10.0 ** log_sr_to_af,
    "p(AF to SR)": 10.0 ** log_af_to_sr,
})

DPI = 130
W, H = 541, 513
fig = plt.figure(figsize=(W / DPI, H / DPI), dpi=DPI)
left, right, top, bottom = 97, 515, 38.5, 455
ax = fig.add_axes([left / W, 1 - bottom / H, (right - left) / W, (bottom - top) / H])
sns.scatterplot(data=df, x="p(SR to AF)", y="p(AF to SR)", ax=ax,
                s=5, linewidth=0, color="#1f77b4")
ax.set_xscale("log")
ax.set_yscale("log")
ax.set_xlim(10 ** -4.862, 10 ** 0.218)
ax.set_ylim(10 ** -4.85, 10 ** 0.217)
ax.set_title("Distribution of transition rate parameters", fontsize=12)
ax.set_xlabel("p(SR to AF)", fontsize=10)
ax.set_ylabel("p(AF to SR)", fontsize=10)
ax.tick_params(labelsize=10)
fig.savefig("out.png", dpi=DPI)
